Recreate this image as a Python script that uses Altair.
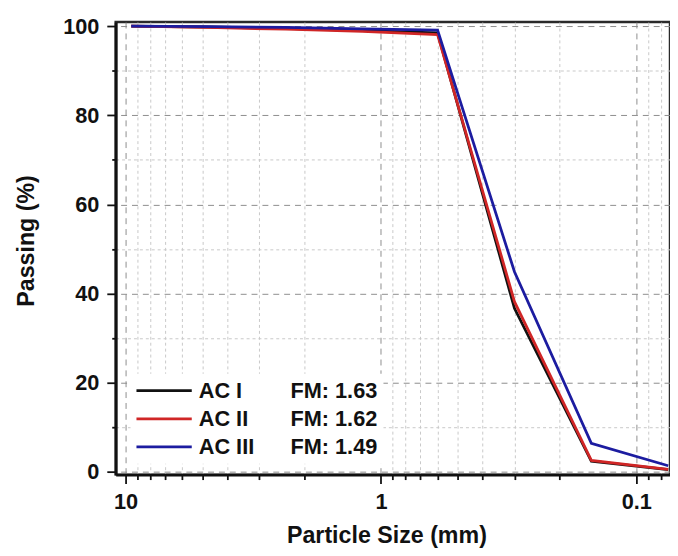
import altair as alt
import pandas as pd

# sieve sizes (mm)
sizes = [9.5, 4.75, 2.36, 1.18, 0.6, 0.3, 0.15, 0.075]
ac1 = [100.0, 99.8, 99.5, 99.0, 98.5, 36.7, 2.4, 0.5]
ac2 = [100.0, 99.7, 99.3, 98.8, 98.1, 38.2, 2.6, 0.6]
ac3 = [100.0, 99.9, 99.7, 99.4, 99.1, 44.9, 6.4, 1.4]
series = ["AC I", "AC II", "AC III"]
fm = ["1.63", "1.62", "1.49"]
pads = [8, 7, 6]
colors = ["#111111", "#d02626", "#1c1ca0"]

x_ticks = [0.08, 0.09, 0.1, 0.2, 0.3, 0.4, 0.5, 0.6, 0.7, 0.8, 0.9,
           1, 2, 3, 4, 5, 6, 7, 8, 9, 10]
y_ticks = [0, 10, 20, 30, 40, 50, 60, 70, 80, 90, 100]

labels = [s + "\u00a0" * p + "FM: " + f for s, p, f in zip(series, pads, fm)]
rows = []
for lab, vals in zip(labels, [ac1, ac2, ac3]):
    for s, v in zip(sizes, vals):
        rows.append({"size": s, "passing": v, "series": lab})
df = pd.DataFrame(rows)

xmajor = "abs(log(datum.value)/LN10 - round(log(datum.value)/LN10)) < 1e-6"
ymajor = "datum.value % 20 == 0"

font = "Liberation Sans"

chart = alt.Chart(df).mark_line(strokeWidth=2.8).encode(
    x=alt.X("size:Q",
            scale=alt.Scale(type="log", domain=[0.0738, 10.93], reverse=True, nice=False),
            axis=alt.Axis(
                title="Particle Size (mm)",
                values=x_ticks,
                labelExpr="(" + xmajor + ") ? (datum.value >= 1 ? format(datum.value, 'd') : format(datum.value, '.1f')) : ''",
                tickSize={"condition": {"test": xmajor, "value": 9}, "value": 5},
                gridColor={"condition": {"test": xmajor, "value": "#8c8c8c"}, "value": "#c8c8c8"},
                gridDash={"condition": {"test": xmajor, "value": [6, 5]}, "value": [3, 3]},
                labelPadding=8,
                titleX=274, titleY=69, titleBaseline="alphabetic",
            )),
    y=alt.Y("passing:Q",
            scale=alt.Scale(domain=[-0.6, 100.9], nice=False, zero=False),
            axis=alt.Axis(
                title="Passing (%)",
                values=y_ticks,
                labelExpr="(" + ymajor + ") ? datum.label : ''",
                tickSize={"condition": {"test": ymajor, "value": 9}, "value": 4},
                gridColor={"condition": {"test": ymajor, "value": "#8c8c8c"}, "value": "#c8c8c8"},
                gridDash={"condition": {"test": ymajor, "value": [6, 5]}, "value": [3, 3]},
                labelPadding=8,
                titleX=-90, titleY=221, titleBaseline="middle",
            )),
    color=alt.Color("series:N",
                    scale=alt.Scale(domain=labels, range=colors),
                    legend=alt.Legend(
                        title=None, orient="none", legendX=15, legendY=356,
                        symbolType="M-3,0L3,0", symbolSize=348, symbolStrokeWidth=2.8,
                        symbolOffset=17,
                        labelFont=font, labelFontSize=22, labelFontWeight="bold",
                        labelColor="#111", labelOffset=24, rowPadding=6.5,
                        labelLimit=400,
                        fillColor="white", padding=6,
                    )),
    order=alt.Order("series:N"),
).properties(
    width=561, height=458,
    autosize=alt.AutoSizeParams(type="none"),
    padding={"left": 109, "top": 11, "right": 0, "bottom": 71},
).configure_view(
    stroke="#2a2a2a", strokeWidth=2.5,
).configure_axis(
    domainColor="#111", domainWidth=3,
    tickColor="#111", tickWidth=1.8,
    labelFont=font, labelFontSize=22, labelFontWeight="bold", labelColor="#111",
    titleFont=font, titleFontSize=23.5, titleFontWeight="bold", titleColor="#111",
    gridWidth=1,
)

chart.save("out.html", embed_options={"renderer": "svg", "actions": False})
